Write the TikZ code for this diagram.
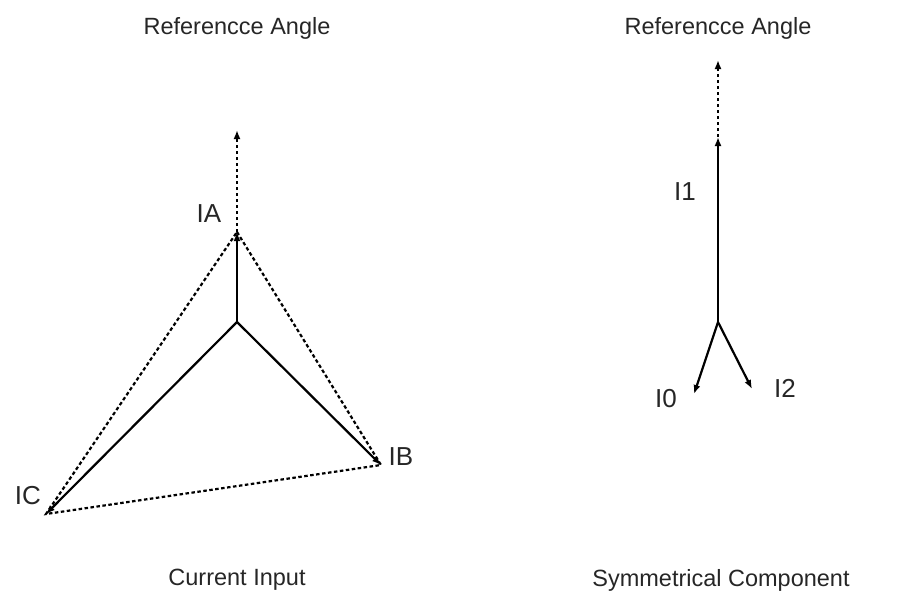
\documentclass[tikz,border=0pt]{standalone}
\usepackage{fontspec}
\setmainfont{Liberation Sans}
\usetikzlibrary{arrows.meta}
\begin{document}
\begin{tikzpicture}[x=1pt,y=-1pt,
  vec/.style={line width=2.2pt,-{Latex[length=9pt,width=7pt]}},
  dvec/.style={line width=2.2pt,dash pattern=on 3.5pt off 2.5pt,-{Latex[length=9pt,width=7pt]}},
  dline/.style={line width=2.2pt,dash pattern=on 3.5pt off 2.5pt},
  lbl/.style={font=\fontsize{26}{28}\selectfont,text=black!85,inner sep=0pt},
  ttl/.style={font=\fontsize{23.5}{26}\selectfont,text=black!85,inner sep=0pt}]
\useasboundingbox (0,0) rectangle (914,595);
% left diagram
\coordinate (O) at (237,322);
\coordinate (A) at (237,232);
\coordinate (B) at (381,465);
\coordinate (C) at (46,514);
\coordinate (R) at (237,130);
\draw[dvec] (A) -- (R);
\draw[dline] (A) -- (B) -- (C) -- cycle;
\draw[vec] (O) -- (A);
\draw[vec] (O) -- (B);
\draw[vec] (O) -- (C);
\node[lbl] (la) at (209,214) {IA};
\node[lbl] (lb) at (401,457) {IB};
\node[lbl] (lc) at (28,496) {IC};
\node[ttl] (t1) at (237,28) {Referencce Angle};
\node[ttl] (b1) at (237,580) {Current Input};
% right diagram
\coordinate (O2) at (718,322);
\coordinate (I1) at (718,137);
\coordinate (R2) at (718,60);
\coordinate (I0) at (694,394);
\coordinate (I2) at (752,389);
\draw[dvec] (I1) -- (R2);
\draw[vec] (O2) -- (I1);
\draw[vec] (O2) -- (I0);
\draw[vec] (O2) -- (I2);
\node[lbl] (l1) at (685,192) {I1};
\node[lbl] (l0) at (666,399) {I0};
\node[lbl] (l2) at (785,388) {I2};
\node[ttl] (t2) at (718,28) {Referencce Angle};
\node[ttl] (b2) at (721,580) {Symmetrical Component};
\end{tikzpicture}
\end{document}
